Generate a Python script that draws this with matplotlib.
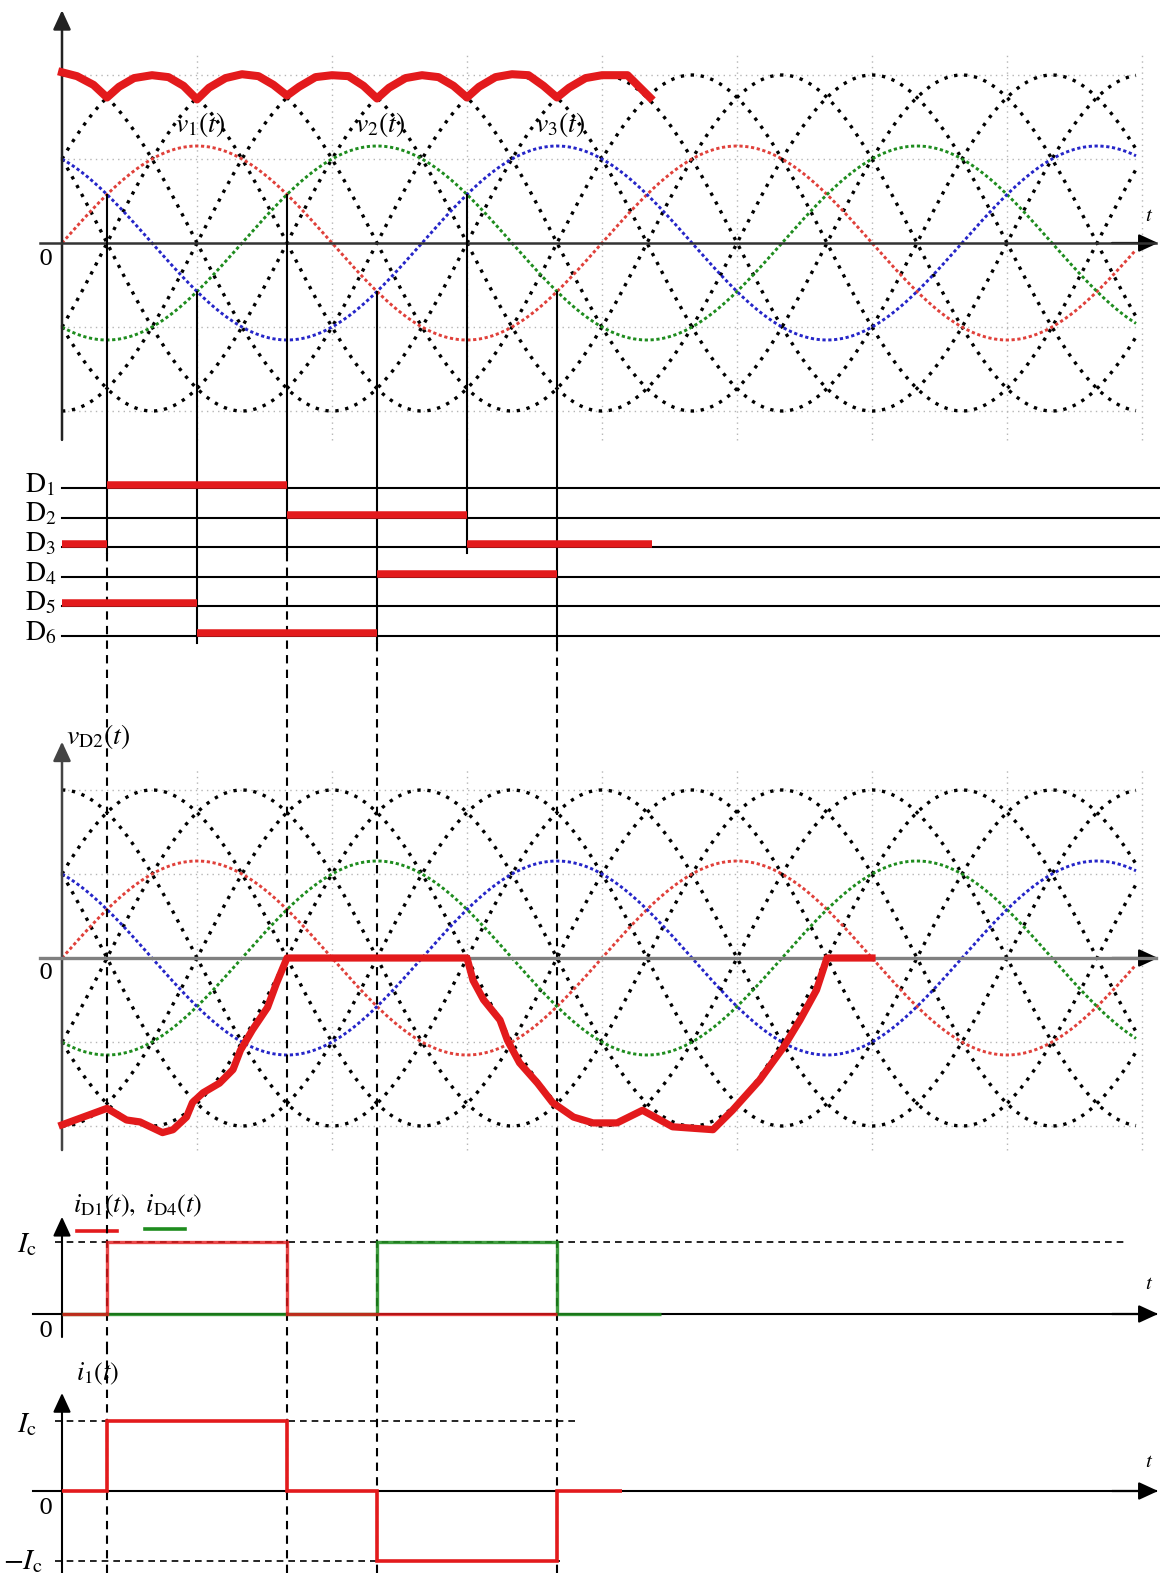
import numpy as np
import matplotlib
matplotlib.use("Agg")
import matplotlib.pyplot as plt

plt.rcParams["font.family"] = ["DejaVu Serif"]
plt.rcParams["mathtext.fontset"] = "stix"

# ---------------- data (angles in degrees of wt, voltages in p.u. of phase peak) ----------------
phase_shift_deg = [0, -120, -240]          # v1, v2, v3
phase_amplitude = 1.0
curve_end_deg = 716

commutation_deg = [30, 90, 150, 210, 270, 330]
commutation_level = [0.5, -0.5, 0.5, -0.5, 0.5, -0.5]
dashed_deg = [30, 150, 210, 330]

diode_labels = ["D_1", "D_2", "D_3", "D_4", "D_5", "D_6"]
diode_row = [1, 2, 3, 3, 4, 5, 6]
diode_on = [30, 150, 0, 270, 210, 0, 90]
diode_off = [150, 270, 30, 393, 330, 90, 210]

env_deg = [0, 10, 21, 30, 38, 48, 60, 71, 81, 90, 98, 109, 120, 131, 141, 150, 158, 169,
           180, 191, 201, 210, 218, 229, 240, 251, 261, 270, 278, 289, 300, 311, 321, 330,
           338, 349, 360, 377, 392]
env_val = [1.76, 1.72, 1.63, 1.50, 1.61, 1.70, 1.73, 1.71, 1.62, 1.48, 1.60, 1.70, 1.74,
           1.72, 1.63, 1.52, 1.61, 1.71, 1.73, 1.72, 1.62, 1.49, 1.60, 1.70, 1.73, 1.71,
           1.62, 1.50, 1.61, 1.71, 1.74, 1.73, 1.62, 1.50, 1.60, 1.70, 1.73, 1.73, 1.50]

vd2_deg = [0, 30, 43, 52, 67, 74, 83, 87, 94, 105, 114, 119, 127, 137, 143, 150, 270, 274,
           281, 292, 297, 305, 317, 327, 341, 354, 370, 387, 407, 434, 447, 465, 481, 492,
           503, 510, 540]
vd2_val = [-1.72, -1.55, -1.67, -1.69, -1.80, -1.77, -1.64, -1.49, -1.39, -1.29, -1.15,
           -0.95, -0.74, -0.51, -0.26, 0.0, 0.0, -0.23, -0.43, -0.64, -0.85, -1.08, -1.29,
           -1.49, -1.64, -1.70, -1.70, -1.57, -1.74, -1.77, -1.57, -1.26, -0.92, -0.64,
           -0.33, 0.0, 0.0]

iD1_edges = [0, 30, 150, 330]
iD1_levels = [0, 1, 0]
iD4_edges = [0, 210, 330, 399]
iD4_levels = [0, 1, 0]
i1_edges = [0, 30, 150, 210, 330, 373]
i1_levels = [0, 1, 0, -1, 0]

# ---------------- layout ----------------
W, H = 1160, 1573
X0, PXD = 62.0, 1.5
XL = (-X0 / PXD, (W - X0) / PXD)

RED = "#e31a1c"
GREEN = "#1e8c1e"
BLUE = "#2525c8"
PH_COL = ["#e0403a", GREEN, BLUE]
GRID = "#b5b5b5"

fig = plt.figure(figsize=(W / 100, H / 100), dpi=100)


def band(top, bottom, zero=None, scale=None, rows=None):
    ax = fig.add_axes([0, 1 - bottom / H, 1, (bottom - top) / H])
    ax.set_xlim(XL)
    if rows is None:
        ax.set_ylim(-(bottom - zero) / scale, (zero - top) / scale)
    else:
        r0, sp = rows
        ax.set_ylim(1 + (bottom - r0) / sp, 1 + (top - r0) / sp)
    ax.axis("off")
    return ax


def arrow(ax, start, tip, color="black", lw=1.6):
    ax.annotate("", xy=tip, xytext=start, annotation_clip=False,
                arrowprops=dict(arrowstyle="-|>,head_length=0.65,head_width=0.3",
                                color=color, lw=lw, mutation_scale=18,
                                shrinkA=0, shrinkB=0))


axA = band(0, 455, 243, 97)
axB = band(455, 690, rows=(488, 29.6))
axC = band(690, 1165, 958, 97)
axD = band(1165, 1350, 1314, 72)
axE = band(1350, 1573, 1491, 70)

theta = np.linspace(0, curve_end_deg, 3000)
phases = [phase_amplitude * np.sin(np.radians(theta + s)) for s in phase_shift_deg]
ll = []
for i, j in [(0, 1), (1, 2), (2, 0)]:
    ll.append(phases[i] - phases[j])
    ll.append(phases[j] - phases[i])

grid_v = np.arange(90, 721, 90)
grid_h = [-np.sqrt(3), -np.sqrt(3) / 2, np.sqrt(3) / 2, np.sqrt(3)]

for ax, gtop, gbot in [(axA, 1.94, -2.03), (axC, 1.94, -1.98)]:
    for g in grid_v:
        ax.plot([g, g], [gbot, gtop], color=GRID, lw=1.0, ls=(0, (1, 3)), zorder=1)
    for g in grid_h:
        ax.plot([0, curve_end_deg], [g, g], color=GRID, lw=1.0, ls=(0, (1, 3)), zorder=1)
    for c in ll:
        ax.plot(theta, c, color="black", lw=2.4, ls=(0, (1, 2.0)), zorder=2)
    for p, col in zip(phases, PH_COL):
        ax.plot(theta, p, color=col, lw=2.1, ls=(0, (1.1, 0.9)), zorder=3)

# axes of voltage panels
axA.plot([-14.7, 729], [0, 0], color="#333333", lw=1.8, zorder=4)
arrow(axA, (700, 0), (730.7, 0), "black")
arrow(axA, (0, -2.03), (0, 2.40), "#222222", lw=1.8)
axC.plot([-14.7, 729], [0, 0], color="#808080", lw=2.4, zorder=4)
arrow(axC, (700, 0), (730.7, 0), "black")
arrow(axC, (0, -1.98), (0, 2.23), "#444444", lw=1.8)

# thick red curves
axA.plot(env_deg, env_val, color=RED, lw=5.8, solid_joinstyle="round", zorder=6)
axC.plot(vd2_deg, vd2_val, color=RED, lw=5.2, solid_joinstyle="round", zorder=6)

# commutation verticals
yA_bot = -(455 - 243) / 97
for d, lev in zip(commutation_deg, commutation_level):
    axA.plot([d, d], [lev, yA_bot], color="black", lw=1.5, zorder=5)
    end_row = 3.2 if lev > 0 else 6.24
    axB.plot([d, d], [-0.2, end_row], color="black", lw=1.5, zorder=3)
    if d in dashed_deg:
        axB.plot([d, d], [end_row, 8], color="black", lw=1.5, ls=(0, (4, 3)), zorder=3)
for ax in (axC, axD, axE):
    lo, hi = ax.get_ylim()
    for d in dashed_deg:
        ax.plot([d, d], [lo, hi], color="black", lw=1.5, ls=(0, (4, 3)), zorder=3)

# diode panel
for r, lab in enumerate(diode_labels, start=1):
    axB.plot([0, XL[1]], [r, r], color="black", lw=1.5, zorder=2)
    axB.text((25 - X0) / PXD, r + 0.14, r"$\mathrm{%s}$" % lab.replace("_", "}_{"),
             fontsize=20, ha="left", va="baseline", zorder=4)
for r, a, b in zip(diode_row, diode_on, diode_off):
    axB.plot([a, b], [r - 0.1, r - 0.1], color=RED, lw=5.4, solid_capstyle="butt", zorder=4)

# current panels
axD.plot([-19.3, 729], [0, 0], color="black", lw=1.5, zorder=2)
arrow(axD, (700, 0), (730.7, 0), "black")
arrow(axD, (0, -0.32), (0, 1.35), "black", lw=1.5)
axD.plot([-5, 709], [1, 1], color="black", lw=1.2, ls=(0, (4, 3)), zorder=2)
axD.stairs(iD4_levels, iD4_edges, baseline=None, color=GREEN, lw=2.4, alpha=0.85, zorder=4)
axD.stairs(iD1_levels, iD1_edges, baseline=None, color=RED, lw=2.4, alpha=0.8, zorder=5)
axD.plot([10, 36.7], [1.15, 1.15], color=RED, lw=2.6)
axD.plot([55.3, 82], [1.18, 1.18], color=GREEN, lw=2.6)

axE.plot([-19.3, 729], [0, 0], color="black", lw=1.5, zorder=2)
arrow(axE, (700, 0), (730.7, 0), "black")
arrow(axE, (0, -1.2), (0, 1.40), "black", lw=1.5)
axE.plot([-5, 342], [1, 1], color="black", lw=1.2, ls=(0, (4, 3)), zorder=2)
axE.plot([-5, 332], [-1, -1], color="black", lw=1.2, ls=(0, (4, 3)), zorder=2)
axE.stairs(i1_levels, i1_edges, baseline=None, color=RED, lw=2.6, zorder=5)

# ---------------- texts ----------------
def px_x(x):
    return (x - X0) / PXD

for d, name in zip([90, 210, 330], ["1", "2", "3"]):
    axA.text(d + 2, 1.22, r"$v_{%s}(t)$" % name, fontsize=20, ha="center", va="center",
             zorder=7)
axA.text(px_x(46), -0.17, "0", fontsize=16, ha="center", va="center")
axA.text(px_x(1149), 0.28, r"$t$", fontsize=15, ha="center", va="center")

axC.text(px_x(66), 2.28, r"$v_{\mathrm{D2}}(t)$", fontsize=20, ha="left", va="center")
axC.text(px_x(46), -0.15, "0", fontsize=16, ha="center", va="center")

axD.text(px_x(73), 1.5, r"$i_{\mathrm{D1}}(t),\ i_{\mathrm{D4}}(t)$", fontsize=19,
         ha="left", va="center")
axD.text(px_x(27), 0.97, r"$I_{\mathrm{c}}$", fontsize=21, ha="center", va="center")
axD.text(px_x(46), -0.24, "0", fontsize=16, ha="center", va="center")
axD.text(px_x(1149), 0.42, r"$t$", fontsize=15, ha="center", va="center")

axE.text(px_x(76), 1.68, r"$i_1(t)$", fontsize=19, ha="left", va="center")
axE.text(px_x(27), 0.96, r"$I_{\mathrm{c}}$", fontsize=21, ha="center", va="center")
axE.text(px_x(46), -0.24, "0", fontsize=16, ha="center", va="center")
axE.text(px_x(23), -1.0, r"$-I_{\mathrm{c}}$", fontsize=21, ha="center", va="center")
axE.text(px_x(1149), 0.42, r"$t$", fontsize=15, ha="center", va="center")

fig.savefig("out.png", dpi=100, facecolor="white")
